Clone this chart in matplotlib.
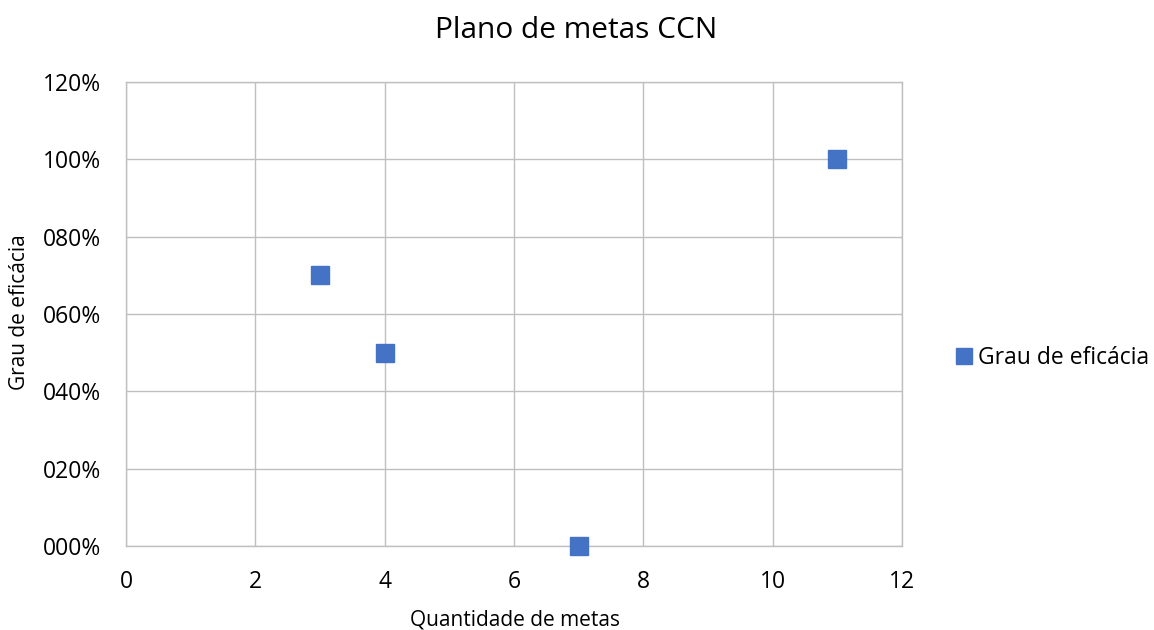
import matplotlib.pyplot as plt
from matplotlib.ticker import FuncFormatter

# data
quantidade = [3, 4, 7, 11]
eficacia = [0.70, 0.50, 0.00, 1.00]
x_ticks = [0, 2, 4, 6, 8, 10, 12]
y_ticks = [0.0, 0.2, 0.4, 0.6, 0.8, 1.0, 1.2]

plt.rcParams['font.family'] = ['Open Sans', 'DejaVu Sans']

fig = plt.figure(figsize=(11.54, 6.3), dpi=100)
ax = fig.add_axes([0.1092, 0.1333, 0.6724, 0.7365])

ax.plot(quantidade, eficacia, linestyle='none', marker='s', markersize=13.5,
        color='#4472C4', label='Grau de eficácia', zorder=3, clip_on=False)

ax.set_xlim(0, 12)
ax.set_ylim(0, 1.2)
ax.set_xticks(x_ticks)
ax.set_yticks(y_ticks)
ax.yaxis.set_major_formatter(FuncFormatter(lambda v, p: f"{v*100:03.0f}%"))
ax.grid(True, color='#BFBFBF', linewidth=1)
ax.set_axisbelow(True)
for s in ax.spines.values():
    s.set_color('#BFBFBF')
    s.set_linewidth(1)
ax.tick_params(length=0, labelsize=16.5, colors='black')
ax.tick_params(axis='y', pad=18)
ax.tick_params(axis='x', pad=17)

fig.text(515 / 1154, 1 - 620 / 630, 'Quantidade de metas', ha='center', va='center', fontsize=15)
fig.text(20 / 1154, 1 - 312 / 630, 'Grau de eficácia', ha='center', va='center',
         rotation=90, fontsize=15)
fig.text(576 / 1154, 1 - 31 / 630, 'Plano de metas CCN', ha='center', va='center', fontsize=21.5)

ax.legend(loc='center left', bbox_to_anchor=(950 / 1154, 1 - 358 / 630),
          bbox_transform=fig.transFigure, frameon=False, borderpad=0, borderaxespad=0,
          fontsize=16.5, handletextpad=0.0, handlelength=1.2, markerscale=0.85)

plt.savefig('out.png')
